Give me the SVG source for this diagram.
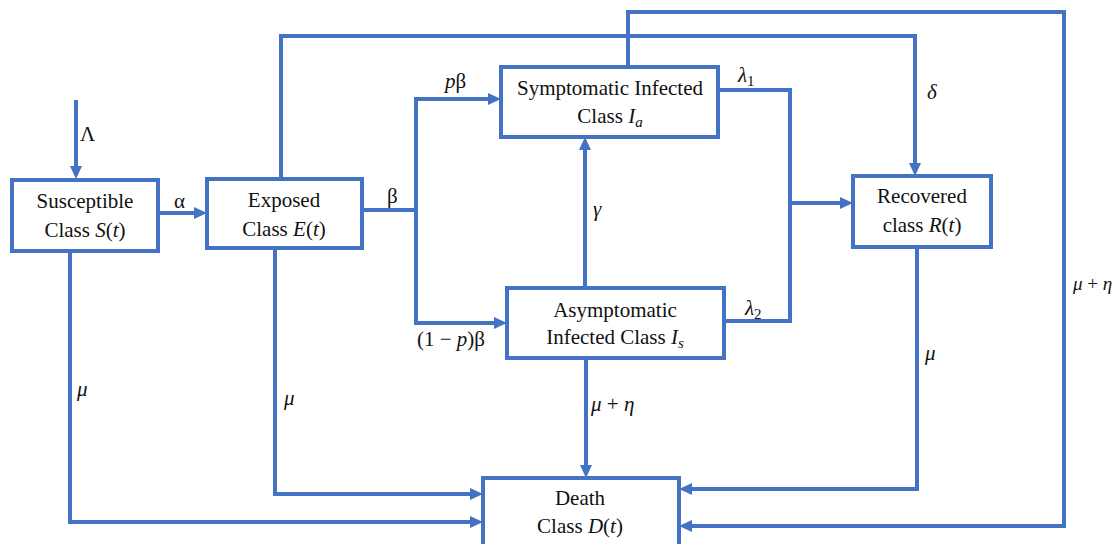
<svg xmlns="http://www.w3.org/2000/svg" width="1118" height="544" viewBox="0 0 1118 544">
<style>
.box{fill:#fff;stroke:#4472C4;stroke-width:4}
.ln{fill:none;stroke:#4472C4;stroke-width:4}
.t{font-family:"Liberation Serif","Times New Roman",serif;font-size:21px;fill:#111;text-anchor:middle}
.lb{font-family:"Liberation Serif","Times New Roman",serif;font-size:21px;fill:#111}
.m{font-style:italic}
.sub{font-size:15px}
.edge{font-size:19px}
</style>
<defs>
<marker id="ah" markerUnits="userSpaceOnUse" markerWidth="14" markerHeight="14" viewBox="0 0 14 14" refX="4" refY="7" orient="auto">
<path d="M0,1 L13,7 L0,13 z" fill="#4472C4"/>
</marker>
</defs>
<g id="connectors">
<path class="ln" d="M76,100 V170" marker-end="url(#ah)"/>
<path class="ln" d="M158,213 H198" marker-end="url(#ah)"/>
<path class="ln" d="M362,210 H416"/>
<path class="ln" d="M416,97 V325"/>
<path class="ln" d="M414,99 H492" marker-end="url(#ah)"/>
<path class="ln" d="M414,323 H498" marker-end="url(#ah)"/>
<path class="ln" d="M718,90 H790 V321 H724"/>
<path class="ln" d="M790,203 H844" marker-end="url(#ah)"/>
<path class="ln" d="M585,288 V146" marker-end="url(#ah)"/>
<path class="ln" d="M281,178 V36 H915 V167" marker-end="url(#ah)"/>
<path class="ln" d="M628,67 V12 H1064 V526 H688" marker-end="url(#ah)"/>
<path class="ln" d="M70,251 V522 H474" marker-end="url(#ah)"/>
<path class="ln" d="M275,248 V494 H474" marker-end="url(#ah)"/>
<path class="ln" d="M586,360 V469" marker-end="url(#ah)"/>
<path class="ln" d="M917,247 V489 H688" marker-end="url(#ah)"/>
</g>
<g id="labels">
<text class="lb" x="80" y="141">Λ</text>
<text class="lb" x="174" y="208">α</text>
<text class="lb" x="387" y="203">β</text>
<text class="lb" x="445" y="88"><tspan class="m">p</tspan>β</text>
<text class="lb" x="738" y="82"><tspan class="m">λ</tspan><tspan class="sub" dy="4">1</tspan></text>
<text class="lb" x="593" y="216"><tspan class="m">γ</tspan></text>
<text class="lb" x="745" y="315"><tspan class="m">λ</tspan><tspan class="sub" dy="4">2</tspan></text>
<text class="lb" x="417" y="346">(1 − <tspan class="m">p</tspan>)β</text>
<text class="lb m" x="927" y="99">δ</text>
<text class="lb m" x="77" y="396">μ</text>
<text class="lb m" x="284" y="405">μ</text>
<text class="lb" x="591" y="411"><tspan class="m">μ</tspan> + <tspan class="m">η</tspan></text>
<text class="lb m" x="925" y="360">μ</text>
<text class="lb edge" x="1073" y="290"><tspan class="m">μ</tspan> + <tspan class="m">η</tspan></text>
</g>
<g id="susceptible">
<rect class="box" x="12" y="180" width="146" height="71"/>
<text class="t" x="85" y="208">Susceptible</text>
<text class="t" x="85" y="237">Class <tspan class="m">S</tspan>(<tspan class="m">t</tspan>)</text>
</g>
<g id="exposed">
<rect class="box" x="207" y="179" width="155" height="69"/>
<text class="t" x="284" y="207">Exposed</text>
<text class="t" x="284" y="236">Class <tspan class="m">E</tspan>(<tspan class="m">t</tspan>)</text>
</g>
<g id="symptomatic">
<rect class="box" x="501" y="67" width="217" height="70"/>
<text class="t" x="610" y="95">Symptomatic Infected</text>
<text class="t" x="610" y="123">Class <tspan class="m">I</tspan><tspan class="m sub" dy="4">a</tspan></text>
</g>
<g id="asymptomatic">
<rect class="box" x="507" y="288" width="217" height="70"/>
<text class="t" x="615" y="317">Asymptomatic</text>
<text class="t" x="615" y="344">Infected Class <tspan class="m">I</tspan><tspan class="m sub" dy="4">s</tspan></text>
</g>
<g id="recovered">
<rect class="box" x="853" y="176" width="138" height="71"/>
<text class="t" x="922" y="203">Recovered</text>
<text class="t" x="922" y="232">class <tspan class="m">R</tspan>(<tspan class="m">t</tspan>)</text>
</g>
<g id="death">
<rect class="box" x="483" y="478" width="196" height="72"/>
<text class="t" x="580" y="505">Death</text>
<text class="t" x="580" y="533">Class <tspan class="m">D</tspan>(<tspan class="m">t</tspan>)</text>
</g>
</svg>
